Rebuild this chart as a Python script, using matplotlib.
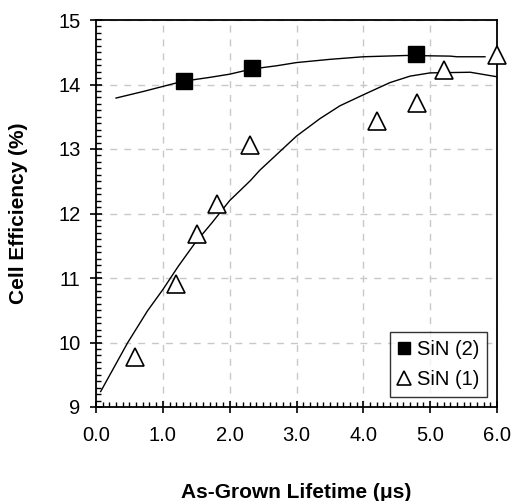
import matplotlib
matplotlib.use("Agg")
import matplotlib.pyplot as plt
from matplotlib.ticker import MultipleLocator

plt.rcParams['font.family'] = ['Liberation Sans', 'DejaVu Sans']

# SiN (2) measured points
sin2_x = [1.31, 2.34, 4.79]
sin2_y = [14.06, 14.25, 14.47]
# SiN (1) measured points
sin1_x = [0.59, 1.19, 1.515, 1.81, 2.30, 4.20, 4.80, 5.21, 6.0]
sin1_y = [9.77, 10.91, 11.68, 12.15, 13.06, 13.44, 13.72, 14.23, 14.46]

# trend curves
fit2_x = [0.3, 0.7, 1.0, 1.3, 1.7, 2.0, 2.33, 2.7, 3.0, 3.5, 4.0, 4.65, 5.3, 5.4, 5.82]
fit2_y = [13.79, 13.89, 13.97, 14.05, 14.11, 14.16, 14.24, 14.29, 14.34, 14.39, 14.43, 14.45, 14.44, 14.43, 14.43]
fit1_x = [0.07, 0.47, 0.77, 1.0, 1.23, 1.48, 1.73, 2.0, 2.31, 2.45, 3.0, 3.35, 3.65, 4.02, 4.4, 4.7, 5.0, 5.6, 6.0]
fit1_y = [9.24, 9.99, 10.49, 10.82, 11.18, 11.54, 11.85, 12.2, 12.51, 12.67, 13.2, 13.47, 13.67, 13.85, 14.03, 14.13, 14.18, 14.19, 14.12]

xticks = [0, 1, 2, 3, 4, 5, 6]
xticklabels = ['0.0', '1.0', '2.0', '3.0', '4.0', '5.0', '6.0']
yticks = [9, 10, 11, 12, 13, 14, 15]

fig = plt.figure(figsize=(5.12, 5.01), dpi=100)
ax = fig.add_axes([96/512, 1-407/501, (497-96)/512, (407-20)/501])

ax.plot(fit2_x, fit2_y, color='black', lw=1.0, zorder=3)
ax.plot(fit1_x, fit1_y, color='black', lw=1.0, zorder=3)
ax.plot(sin2_x, sin2_y, linestyle='none', marker='s', markersize=11,
        mfc='black', mec='black', label='SiN (2)', zorder=4, clip_on=False)
ax.plot(sin1_x, sin1_y, linestyle='none', marker='^', markersize=12.5,
        mfc='white', mec='black', mew=1.2, label='SiN (1)', zorder=4, clip_on=False)

ax.set_xlim(0, 6)
ax.set_ylim(9, 15)
ax.set_xticks(xticks)
ax.set_xticklabels(xticklabels)
ax.set_yticks(yticks)
ax.xaxis.set_minor_locator(MultipleLocator(0.1))
ax.yaxis.set_minor_locator(MultipleLocator(0.1))
ax.tick_params(which='major', direction='inout', length=8, width=1.2, labelsize=14.5)
ax.tick_params(axis='x', which='major', pad=10)
ax.tick_params(axis='y', which='major', pad=7)
ax.tick_params(which='minor', direction='in', length=3.5, width=1.0)
ax.tick_params(top=False, right=False, which='both')
for s in ax.spines.values():
    s.set_linewidth(1.3)

ax.grid(True, which='major', linestyle=(0, (5, 5)), color='#c8c8c8', lw=1.0)
ax.set_axisbelow(True)

fig.text((96+497)/2/512, 1-493/501, 'As-Grown Lifetime (μs)', ha='center', va='center',
         fontsize=15, fontweight='bold')
fig.text(19/512, 1-213/501, 'Cell Efficiency (%)', ha='center', va='center',
         rotation=90, fontsize=15, fontweight='bold')

leg = ax.legend(loc='lower right', bbox_to_anchor=(487/512, 1-397/501), bbox_transform=fig.transFigure,
                fontsize=14.5, frameon=True, fancybox=False, handlelength=0.6, handletextpad=0.3,
                borderpad=0.4, labelspacing=0.55, markerscale=0.75, borderaxespad=0)
leg.get_frame().set_edgecolor('black')
leg.get_frame().set_linewidth(1.0)

fig.savefig('out.png', dpi=100)
